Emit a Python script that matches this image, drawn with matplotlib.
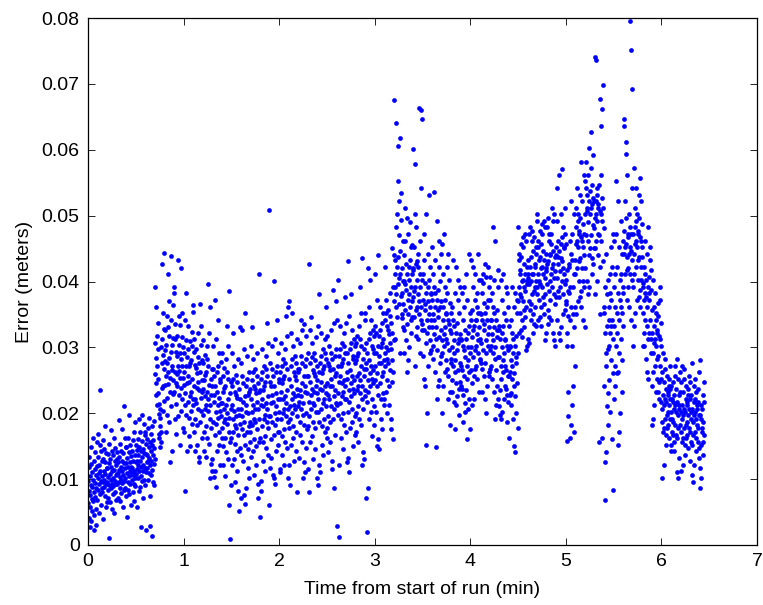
import matplotlib
matplotlib.use("Agg")
import matplotlib.pyplot as plt
import numpy as np

# error samples, in units of 0.1 mm,
# grouped in blocks of 0.1 min (36 samples per block, fixed sample rate)
dt = 0.1 / 36

blocks = [
    [63,97,41,118,82,134,27,76,105,58,149,91,36,123,70,111,52,88,162,67,99,45,128,81,23,116,73,141,94,55,107,31,86,120,69,157],
    [104,86,127,61,143,97,235,112,78,152,93,121,48,109,134,83,168,101,66,117,139,92,57,126,108,181,74,99,146,88,113,39,130,95,159,81],
    [96,117,72,138,103,84,11,125,91,153,66,108,131,87,174,99,119,54,142,93,112,77,136,102,89,163,48,114,97,128,81,147,106,69,121,92],
    [108,92,131,74,149,101,117,86,162,97,124,211,83,139,106,58,128,94,176,112,79,143,99,119,67,154,103,87,133,189,96,114,72,126,109,141],
    [117,98,143,81,159,106,128,92,172,113,67,137,101,186,89,124,148,109,43,132,96,163,118,84,141,104,197,77,126,112,152,93,135,119,61,108],
    [126,108,152,91,167,117,139,99,183,122,71,146,112,198,97,134,158,119,28,143,104,171,127,88,149,113,191,82,137,121,161,101,144,128,57,116],
    [136,117,161,98,177,127,148,109,193,132,74,156,121,29,106,143,168,128,13,152,114,181,137,96,159,123,188,91,147,131,171,111,154,138,22,126],
    [172,156,193,148,207,181,163,199,214,168,252,298,231,337,271,213,318,246,362,284,227,306,391,259,328,443,267,241,352,289,204,313,276,427,238,301],
    [257,304,223,348,276,198,331,244,412,262,317,187,284,371,233,126,253,438,293,211,342,266,303,143,272,364,229,314,251,392,218,279,327,243,296,172],
    [246,293,214,336,263,191,312,232,383,254,301,177,272,352,221,316,238,421,283,203,334,253,291,152,264,347,227,303,433,271,196,259,318,241,287,168],
    [233,281,204,323,252,183,302,221,364,243,292,172,263,341,212,82,231,382,272,197,311,246,286,143,256,332,217,297,166,271,193,248,309,226,277,151],
    [222,273,192,312,241,171,293,213,353,232,281,162,251,332,203,304,223,366,262,187,126,236,277,133,247,322,207,286,152,261,182,238,298,216,269,143],
    [212,263,181,302,232,163,283,203,396,222,271,153,243,322,192,102,213,361,252,177,123,228,267,113,237,311,198,276,142,251,171,226,288,206,258,134],
    [203,252,172,291,223,152,272,193,342,212,262,142,232,312,183,88,202,372,242,167,112,217,257,103,227,302,187,267,131,241,162,216,278,196,248,121],
    [191,242,162,282,213,141,262,183,332,201,252,131,222,302,172,61,193,386,231,157,9,207,247,91,216,292,177,257,122,232,151,206,268,186,238,104],
    [182,232,153,272,203,131,252,172,322,192,241,121,212,292,163,72,183,331,221,147,51,197,237,82,207,282,167,247,112,223,142,196,258,177,228,96],
    [187,237,157,277,207,137,257,176,327,196,246,127,217,297,167,76,186,352,226,152,62,202,242,86,212,287,172,252,117,227,146,201,262,181,233,101],
    [192,242,161,283,212,142,263,182,331,202,251,133,221,302,171,42,191,412,232,157,71,206,246,92,217,291,176,256,121,231,151,206,267,186,237,106],
    [197,247,166,287,216,147,267,186,337,207,256,137,226,307,177,61,196,509,236,162,82,212,252,97,222,297,181,262,127,236,156,211,272,191,242,112],
    [202,252,171,292,221,152,272,191,342,211,262,142,231,312,182,92,201,401,242,167,101,217,257,106,227,302,186,267,132,241,161,216,277,196,247,117],
    [207,257,176,297,226,157,277,196,347,216,267,147,236,317,187,101,206,362,247,172,111,222,262,116,232,307,191,272,137,246,166,221,282,201,252,122],
    [212,262,181,302,231,162,282,201,352,221,272,152,241,322,192,91,211,371,252,177,121,227,267,81,237,312,196,277,142,251,171,226,287,206,257,127],
    [217,267,186,307,236,167,287,206,342,226,277,157,246,327,197,101,216,336,257,182,126,232,272,111,242,317,201,282,147,256,176,231,292,211,262,132],
    [216,266,187,306,237,166,286,207,346,227,276,156,247,326,196,81,217,426,256,181,116,231,271,102,241,316,202,281,146,257,177,232,291,212,261,131],
    [222,272,191,312,241,172,292,211,361,231,282,162,251,332,202,91,221,381,262,187,122,237,277,111,247,322,206,287,152,261,181,236,297,216,267,136],
    [227,277,196,317,246,177,297,216,371,236,287,167,256,337,207,86,226,387,267,192,127,242,282,116,252,327,211,292,157,266,186,241,302,221,272,141],
    [232,282,201,322,251,182,302,221,376,241,292,172,261,342,212,29,231,402,272,197,12,247,287,121,257,332,216,297,162,271,191,246,307,226,277,146],
    [237,287,206,327,256,187,307,226,381,246,297,177,266,347,217,111,236,431,277,202,132,252,292,126,262,337,221,302,167,276,196,251,312,231,282,151],
    [242,292,211,332,261,192,312,231,392,251,302,182,271,352,222,121,241,436,282,207,141,257,297,131,267,342,226,307,172,281,201,256,317,236,287,156],
    [252,302,221,342,271,202,322,241,402,261,312,192,281,362,232,86,251,421,292,217,19,267,307,71,277,352,236,317,182,291,211,266,327,246,297,166],
    [262,312,231,352,281,212,332,251,412,271,322,202,291,372,242,151,261,441,302,227,161,277,317,146,287,362,246,327,192,301,221,276,337,256,307,176],
    [282,332,251,372,301,232,352,271,422,291,342,222,311,392,262,161,281,451,322,247,191,297,337,176,307,382,266,347,212,321,241,296,357,276,327,201],
    [382,421,351,462,401,331,441,371,676,391,432,312,411,482,361,641,381,502,422,346,606,396,437,552,406,471,366,522,292,412,618,447,534,378,493,344],
    [371,412,341,452,391,322,432,361,491,381,422,301,402,472,351,281,372,497,412,336,262,387,427,311,396,462,356,512,291,401,326,441,366,421,346,456],
    [361,402,331,442,381,312,422,351,664,371,412,291,391,462,341,661,362,542,402,326,646,376,417,601,386,452,346,502,272,392,578,427,356,482,317,431],
    [342,382,311,422,361,292,402,331,532,351,392,272,371,442,322,201,341,502,382,306,152,356,397,241,366,432,326,472,252,372,287,411,336,452,296,381],
    [331,372,302,412,351,282,392,321,536,341,382,262,361,432,312,148,331,492,372,296,222,346,387,241,356,422,316,462,251,362,277,401,326,442,287,371],
    [312,352,281,392,331,262,372,302,472,321,362,242,341,412,292,201,311,457,352,276,182,326,367,232,336,402,296,442,222,342,257,382,306,422,267,351],
    [282,322,251,362,301,232,342,272,432,291,332,217,311,382,262,176,281,422,322,246,212,296,337,226,306,372,266,402,197,312,237,352,276,392,247,321],
    [272,312,241,352,291,222,332,262,442,281,322,207,301,372,252,161,271,412,312,236,202,286,327,216,296,362,256,392,187,302,227,342,266,382,237,311],
    [302,342,271,382,321,252,362,292,442,311,352,232,331,402,282,176,301,432,342,266,212,316,357,246,326,392,286,422,222,332,257,372,296,412,267,341],
    [312,352,281,392,331,262,372,302,422,321,362,242,341,407,292,201,311,427,352,276,222,326,367,256,336,397,296,412,232,342,267,382,306,402,277,351],
    [302,342,271,382,321,252,362,292,482,311,352,232,331,402,282,191,301,462,342,266,212,316,357,241,326,392,286,417,222,332,257,372,296,407,267,341],
    [272,312,241,352,291,222,332,262,412,281,322,202,301,372,252,191,271,402,312,236,197,286,327,211,296,362,256,382,187,302,227,342,266,392,237,311],
    [262,302,231,342,281,212,322,252,392,271,312,192,291,362,242,151,261,382,302,226,141,276,317,201,286,352,246,372,177,292,217,332,256,162,227,301],
    [381,412,352,442,391,322,432,371,482,396,422,302,401,462,361,296,386,472,412,346,331,391,427,356,402,452,371,467,316,401,341,437,376,457,326,417],
    [391,422,362,452,401,332,442,381,492,406,432,312,411,472,371,306,396,482,422,356,341,401,437,366,412,462,381,477,322,411,351,447,386,467,336,427],
    [401,432,372,462,411,342,452,391,502,416,442,322,421,482,381,311,406,492,432,366,351,411,447,376,422,472,391,487,332,421,361,457,396,477,346,437],
    [401,442,372,472,411,342,457,391,512,421,447,322,426,492,381,311,406,502,437,366,302,416,452,376,427,482,396,497,336,431,356,462,386,472,346,441],
    [411,452,381,482,421,351,467,401,571,431,457,331,436,502,391,311,416,561,447,376,322,426,462,386,437,492,406,542,341,441,366,472,396,512,356,451],
    [382,422,342,462,391,162,442,361,522,182,432,302,212,472,351,241,392,502,412,331,171,272,432,362,402,457,371,302,322,417,158,232,196,386,347,426],
    [431,472,401,502,452,371,492,421,542,461,482,351,457,512,412,331,441,562,472,392,342,452,487,401,462,522,421,582,361,467,386,497,436,532,376,476],
    [481,522,451,552,502,421,542,471,582,512,532,401,507,562,461,381,491,602,522,441,391,502,537,451,512,572,471,627,411,517,436,547,486,592,426,527],
    [472,512,441,542,492,401,532,461,736,502,522,381,497,741,451,361,481,698,512,431,162,492,527,662,502,636,461,562,351,507,677,422,547,471,157,517],
    [302,362,251,412,322,202,382,281,452,332,372,161,342,422,261,83,312,472,352,241,68,322,392,126,292,442,272,141,211,332,381,231,297,402,182,341],
    [332,392,281,442,352,232,412,312,492,362,402,201,372,452,292,171,342,522,382,262,152,352,422,261,322,472,302,552,242,362,412,272,332,462,222,392],
    [421,472,391,502,442,362,482,412,796,452,472,342,447,752,402,693,432,542,462,382,647,442,477,636,452,522,412,612,594,457,497,372,437,562,417,467],
    [432,472,402,502,452,372,492,422,542,462,482,352,457,512,412,332,442,572,472,392,302,452,487,402,462,522,422,557,362,467,387,497,437,532,377,477],
    [352,392,322,422,372,302,412,342,462,382,402,282,377,442,332,262,362,482,392,312,252,372,407,322,382,432,342,452,292,387,312,417,357,437,302,397],
    [282,322,252,352,302,232,342,272,382,312,332,212,307,362,262,192,292,402,322,242,182,302,337,252,312,372,272,392,222,317,247,347,287,367,232,327],
    [202,232,182,252,212,162,242,192,272,222,237,142,217,262,187,101,207,292,227,172,121,212,247,177,222,267,192,282,152,217,167,237,197,257,177,227],
    [192,222,172,242,202,152,232,182,262,212,227,132,207,252,177,102,197,282,217,162,111,202,237,167,212,257,182,272,142,207,157,227,187,247,167,217],
    [187,217,167,237,197,147,227,177,257,207,222,127,202,247,172,112,192,272,212,157,121,197,232,162,207,252,177,267,137,202,152,222,182,242,162,212],
    [182,212,162,232,192,142,222,172,252,202,217,122,197,242,167,96,187,277,207,152,106,192,227,157,202,247,172,262,132,197,147,217,177,237,157,207],
    [177,207,157,227,187,137,217,167,247,197,86,117,281,101,192,152,212,172],
]

# blocks were read column by column; shuffle their order a little
# (reverse every other one, rotate by block) so neighbours don't line up
err = []
for i, b in enumerate(blocks):
    b = np.array(b, dtype=float)
    if i % 2:
        b = b[::-1]
    err.append(np.roll(b, 13 * i + 5 * (i % 3)))
err = np.concatenate(err) * 1e-4
t = np.arange(len(err)) * dt

plt.rcParams["font.family"] = ["Liberation Sans", "DejaVu Sans"]

fig = plt.figure(figsize=(7.63, 6.05), dpi=100)
ax = fig.add_axes([0.1153, 0.0992, 0.8768, 0.871])

ax.plot(t, err, linestyle="none", marker="o", markersize=3.4,
        markeredgewidth=0, color="#0000ff")

ax.set_xlim(0, 7)
ax.set_ylim(0, 0.08)
ax.set_xticks(range(0, 8))
ax.set_yticks([0, 0.01, 0.02, 0.03, 0.04, 0.05, 0.06, 0.07, 0.08])
ax.set_yticklabels(["0", "0.01", "0.02", "0.03", "0.04", "0.05", "0.06", "0.07", "0.08"])
ax.tick_params(direction="in", length=5, width=0.6, top=True, right=True,
               labelsize=14, pad=6)
for s in ax.spines.values():
    s.set_linewidth(0.9)

ax.set_xlabel("Time from start of run (min)", fontsize=14, labelpad=8)
ax.set_ylabel("Error (meters)", fontsize=14, labelpad=6)

fig.savefig("out.png", dpi=100)
